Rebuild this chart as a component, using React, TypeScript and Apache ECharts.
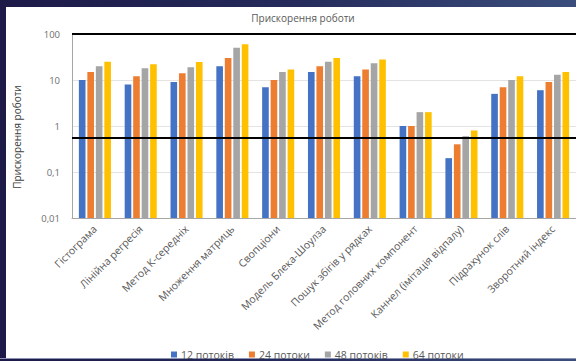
import React, { useEffect, useRef } from "react";
import * as echarts from "echarts";

const categories = [
  "Гістограма",
  "Лінійна регресія",
  "Метод К-середніх",
  "Множення матриць",
  "Свопціони",
  "Модель Блека-Шоулза",
  "Пошук збігів у рядках",
  "Метод головних компонент",
  "Каннел (імітація відпалу)",
  "Підрахунок слів",
  "Зворотний індекс",
];

const seriesNames = ["12 потоків", "24 потоки", "48 потоків", "64 потоки"];
const seriesColors = ["#4472C4", "#ED7D31", "#A5A5A5", "#FFC000"];

const threads12 = [10, 8, 9, 20, 7, 15, 12, 1, 0.2, 5, 6];
const threads24 = [15, 12, 14, 30, 10, 20, 17, 1, 0.4, 7, 9];
const threads48 = [20, 18, 19, 50, 15, 25, 23, 2, 0.6, 10, 13];
const threads64 = [25, 22, 24.5, 60, 17, 30, 28, 2, 0.8, 12, 15];

const yTickLabels = ["0,01", "0,1", "1", "10", "100"];
const yAxisTitle = "Прискорення роботи";
const referenceLine = 0.55;

const FONT = "'Open Sans', 'Noto Sans', sans-serif";

export default function App() {
  const ref = useRef<HTMLDivElement>(null);

  useEffect(() => {
    if (!ref.current) return;
    const chart = echarts.init(ref.current, undefined, { renderer: "svg" });
    const data = [threads12, threads24, threads48, threads64];

    chart.setOption({
      animation: false,
      backgroundColor: "transparent",
      textStyle: { fontFamily: FONT },
      title: {
        text: "Прискорення роботи",
        left: 298,
        top: 8,
        textAlign: "center",
        textStyle: { fontSize: 10, fontWeight: "normal", color: "#595959", fontFamily: FONT },
      },
      graphic: [
        {
          type: "text",
          x: 17,
          y: 137,
          rotation: Math.PI / 2,
          style: {
            text: yAxisTitle,
            fontSize: 10,
            fontFamily: FONT,
            fill: "#404040",
            textAlign: "center",
            textVerticalAlign: "middle",
          },
        },
      ],
      legend: {
        data: seriesNames,
        left: 166,
        top: 344,
        itemWidth: 6,
        itemHeight: 6,
        itemGap: 15,
        icon: "rect",
        textStyle: { fontSize: 10.5, color: "#595959", fontFamily: FONT, padding: [0, 0, 0, -1] },
      },
      grid: { left: 72, top: 34, width: 510, height: 184, containLabel: false },
      xAxis: {
        type: "category",
        data: categories,
        axisLine: { show: true, lineStyle: { color: "#a6a6a6", width: 1 } },
        axisTick: { show: false },
        axisLabel: {
          interval: 0,
          rotate: 45,
          margin: 9,
          fontSize: 10.5,
          color: "#595959",
          fontFamily: FONT,
        },
      },
      yAxis: {
        type: "log",
        logBase: 10,
        min: 0.01,
        max: 100,
        startValue: 0.01,
        axisLine: { show: true, lineStyle: { color: "#a6a6a6", width: 1 } },
        axisTick: { show: false },
        axisLabel: {
          fontSize: 9.5,
          color: "#6e6e6e",
          margin: 12,
          fontFamily: FONT,
          formatter: (v: number) => yTickLabels[Math.round(Math.log10(v)) + 2] ?? "",
        },
        splitLine: { show: true, lineStyle: { color: "#e3e3e3", width: 1 } },
      },
      series: seriesNames.map((name, i) => ({
        name,
        type: "bar",
        data: data[i],
        barGap: "28%",
        barCategoryGap: "30%",
        itemStyle: { color: seriesColors[i] },
        markLine:
          i === 0
            ? {
                silent: true,
                symbol: "none",
                label: { show: false },
                lineStyle: { color: "#000000", width: 2, type: "solid" },
                data: [{ yAxis: 100 }, { yAxis: referenceLine }],
              }
            : undefined,
      })),
    });

    return () => chart.dispose();
  }, []);

  return (
    <div
      style={{
        position: "fixed",
        left: 0,
        top: 0,
        width: 576,
        height: 361,
        background: "linear-gradient(90deg, #1d1a48 0%, #242a5a 50%, #3a4d7c 100%)",
        overflow: "hidden",
      }}
    >
      <div
        style={{
          position: "absolute",
          left: 6,
          top: 7,
          width: 570,
          height: 351,
          background: "#ffffff",
        }}
      />
      <div
        style={{
          position: "absolute",
          left: 0,
          top: 358,
          width: 576,
          height: 1,
          background: "#8a93b3",
        }}
      />
      <div ref={ref} style={{ position: "absolute", left: 0, top: 0, width: 576, height: 361 }} />
    </div>
  );
}
